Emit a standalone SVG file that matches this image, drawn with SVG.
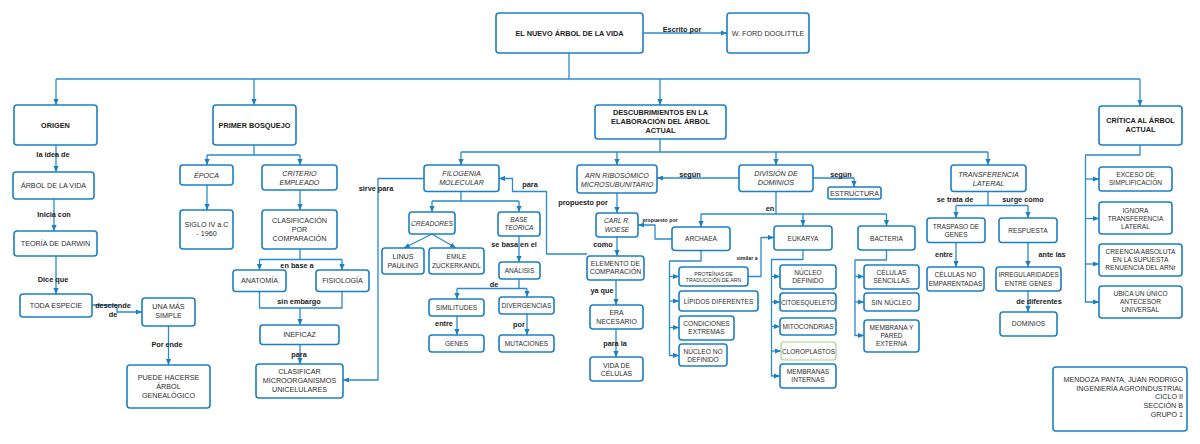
<svg xmlns="http://www.w3.org/2000/svg" width="1200" height="444" viewBox="0 0 1200 444">
<style>
rect.n{fill:#fff;stroke:#1b7fc3;stroke-width:1.6}
rect.g{fill:#fff;stroke:#9fd67c;stroke-width:1.2}
text{font-family:"Liberation Sans",Arial,sans-serif;fill:#2e2e2e;text-anchor:middle;dominant-baseline:central}
.b{font-weight:bold;font-size:7.3px;fill:#222}
.t{font-size:7.2px}
.m{font-size:6.6px}
.i{font-size:7.2px;font-style:italic}
.xs{font-size:5.2px;font-weight:bold;fill:#222}
.xn{font-size:5.2px}
#connectors path{fill:none;stroke:#2a8ad0;stroke-width:1.3;stroke-linejoin:round}
#connectors path.a{marker-end:url(#ah)}
</style>
<defs>
<marker id="ah" markerUnits="userSpaceOnUse" markerWidth="6" markerHeight="6" refX="6" refY="3" orient="auto">
<path d="M0,0.4 L6,3 L0,5.6 z" fill="#1b7fc3"/>
</marker>
</defs>
<rect width="1200" height="444" fill="#fff"/>

<g id="connectors">
<path class="a" d="M643,33 H727"/>
<path d="M569,53 V79"/>
<path d="M56,79 H1140"/>
<path class="a" d="M56,79 V105"/>
<path class="a" d="M254,79 V105"/>
<path class="a" d="M660,79 V105"/>
<path class="a" d="M1140,79 V106"/>
<!-- origen -->
<path class="a" d="M56,145 V172"/>
<path class="a" d="M54,199 V231"/>
<path class="a" d="M56,256 V294"/>
<path class="a" d="M92,305 H117 V312 H142"/>
<path class="a" d="M168.5,326 V365"/>
<!-- primer bosquejo -->
<path d="M254,145 V155 M207,155 H300"/>
<path class="a" d="M207,155 V165"/>
<path class="a" d="M300,155 V165"/>
<path class="a" d="M207,185 V210"/>
<path class="a" d="M300,190 V210"/>
<path d="M300,249 V259.5 M259.5,259.5 H342"/>
<path class="a" d="M259.5,259.5 V270"/>
<path class="a" d="M342,259.5 V270"/>
<path d="M259.5,291.5 V308 H342 V291.5"/>
<path class="a" d="M300,308 V325"/>
<path class="a" d="M300,344.5 V364"/>
<!-- descubrimientos -->
<path d="M660,139 V152 M461,152 H988"/>
<path class="a" d="M461,152 V165"/>
<path class="a" d="M617,152 V165"/>
<path class="a" d="M776,152 V165"/>
<path class="a" d="M988,152 V165"/>
<path class="a" d="M739,178 H657"/>
<path class="a" d="M813,178 H854 V187"/>
<!-- filogenia -->
<path d="M461,191.5 V201 M432,201 H519"/>
<path class="a" d="M432,201 V212"/>
<path class="a" d="M519,201 V212"/>
<path class="a" d="M432,234 L404,248"/>
<path class="a" d="M432,234 L456,248"/>
<path class="a" d="M519,236 V262"/>
<path d="M519,279 V288.5 M457,288.5 H527"/>
<path class="a" d="M457,288.5 V299"/>
<path class="a" d="M527,288.5 V297"/>
<path class="a" d="M457,316 V335"/>
<path class="a" d="M527,314 V335"/>
<path class="a" d="M424,178.5 H378 V380 H343"/>
<path class="a" d="M587,254 H546.5 V191.5 H512.5 V178.5 H499"/>
<!-- arn -->
<path class="a" d="M617,193 V213"/>
<path class="a" d="M617,237 V256"/>
<path class="a" d="M616,280 V305"/>
<path class="a" d="M616,329 V357"/>
<!-- division -->
<path d="M776,191.5 V214 M701,214 H886.5"/>
<path class="a" d="M701,214 V227"/>
<path class="a" d="M803,214 V226"/>
<path class="a" d="M886.5,214 V226"/>
<path class="a" d="M672,239 H655 V225 H638"/>
<path class="a" d="M701,250.5 V261 H669.5 V355.5 H679"/>
<path class="a" d="M669.5,276.5 H679"/>
<path class="a" d="M669.5,301 H679"/>
<path class="a" d="M669.5,327.5 H679"/>
<path class="a" d="M748,276.5 H761 V237.5 H774"/>
<path class="a" d="M803,250 V259.5 H771.5 V376 H780"/>
<path class="a" d="M771.5,276.5 H780"/>
<path class="a" d="M771.5,302 H780"/>
<path class="a" d="M771.5,326.5 H780"/>
<path class="a" d="M771.5,351 H781"/>
<path class="a" d="M886.5,250 V260 H855 V335.5 H864"/>
<path class="a" d="M855,276.5 H864"/>
<path class="a" d="M855,302 H864"/>
<!-- transferencia -->
<path d="M988,191.5 V205.5 M956,205.5 H1028"/>
<path class="a" d="M956,205.5 V218"/>
<path class="a" d="M1028,205.5 V218"/>
<path class="a" d="M956,242.5 V267"/>
<path class="a" d="M1028,242.5 V267"/>
<path class="a" d="M1028,291 V312"/>
<!-- critica -->
<path class="a" d="M1140,145 V155 H1085.5 V302 H1099"/>
<path class="a" d="M1085.5,179 H1099"/>
<path class="a" d="M1085.5,218.5 H1099"/>
<path class="a" d="M1085.5,264 H1099"/>
</g>

<g id="labels">
<text class="b" x="682" y="29">Escrito por</text>
<text class="b" x="53" y="154.5">la idea de</text>
<text class="b" x="54" y="214">Inicia con</text>
<text class="b" x="53" y="279.5">Dice que</text>
<text class="b" x="113" y="305.5">desciende</text>
<text class="b" x="113" y="314.5">de</text>
<text class="b" x="167" y="344.5">Por ende</text>
<text class="b" x="297" y="265">en base a</text>
<text class="b" x="299" y="301">sin embargo</text>
<text class="b" x="299" y="354">para</text>
<text class="b" x="376" y="188.5">sirve para</text>
<text class="b" x="530" y="184.5">para</text>
<text class="b" x="514" y="244.5">se basa en el</text>
<text class="b" x="494" y="284.5">de</text>
<text class="b" x="444" y="323">entre</text>
<text class="b" x="519" y="324.5">por</text>
<text class="b" x="690" y="174">según</text>
<text class="b" x="841" y="174">según</text>
<text class="b" x="583" y="202.5">propuesto por</text>
<text class="b" x="603" y="244">como</text>
<text class="b" x="602" y="290">ya que</text>
<text class="b" x="615" y="343.5">para la</text>
<text class="b" x="770" y="208.5">en</text>
<text class="xs" x="660" y="219.5">propuesto por</text>
<text class="xs" x="747" y="258">similar a</text>
<text class="b" x="955" y="199.5">se trata de</text>
<text class="b" x="1023" y="199.5">surge como</text>
<text class="b" x="944" y="254.5">entre</text>
<text class="b" x="1052" y="254.5">ante las</text>
<text class="b" x="1039" y="301.5">de diferentes</text>
</g>

<g id="root"><rect class="n" x="496" y="13" width="147" height="40" rx="3"/><text class="b" x="569.5" y="33">EL NUEVO ÁRBOL DE LA VIDA</text></g>
<g id="ford"><rect class="n" x="727" y="13" width="82" height="40" rx="3"/><text class="t" x="768" y="33">W. FORD DOOLITTLE</text></g>
<g id="origen"><rect class="n" x="14" y="105" width="83" height="40" rx="3"/><text class="b" x="55.5" y="125">ORIGEN</text></g>
<g id="primer"><rect class="n" x="213" y="105" width="83" height="40" rx="3"/><text class="b" x="254.5" y="125">PRIMER BOSQUEJO</text></g>
<g id="descub"><rect class="n" x="595" y="105" width="131" height="34" rx="3"/><text class="b" x="660.5" y="112.5">DESCUBRIMIENTOS EN LA</text><text class="b" x="660.5" y="121.5">ELABORACIÓN DEL ÁRBOL</text><text class="b" x="660.5" y="130.5">ACTUAL</text></g>
<g id="critica"><rect class="n" x="1099" y="106" width="83" height="39" rx="3"/><text class="b" x="1140.5" y="120">CRÍTICA AL ÁRBOL</text><text class="b" x="1140.5" y="129">ACTUAL</text></g>

<g id="arbol"><rect class="n" x="13" y="172" width="81" height="27" rx="3"/><text class="t" x="53.5" y="185.5">ÁRBOL DE LA VIDA</text></g>
<g id="darwin"><rect class="n" x="14" y="231" width="83" height="25" rx="3"/><text class="t" x="55.5" y="243.5">TEORÍA DE DARWIN</text></g>
<g id="toda"><rect class="n" x="20" y="294" width="72" height="23" rx="3"/><text class="t" x="56" y="305">TODA ESPECIE</text></g>
<g id="una"><rect class="n" x="142" y="298" width="53" height="28" rx="3"/><text class="t" x="168.5" y="306">UNA MÁS</text><text class="t" x="168.5" y="315">SIMPLE</text></g>
<g id="puede"><rect class="n" x="127" y="365" width="83" height="43" rx="3"/><text class="t" x="168.5" y="377">PUEDE HACERSE</text><text class="t" x="168.5" y="386">ÁRBOL</text><text class="t" x="168.5" y="395">GENEALÓGICO</text></g>

<g id="epoca"><rect class="n" x="180" y="165" width="53" height="20" rx="3"/><text class="i" x="206.5" y="175">ÉPOCA</text></g>
<g id="criterio"><rect class="n" x="262" y="165" width="75" height="25" rx="3"/><text class="i" x="299.5" y="173">CRITERIO</text><text class="i" x="299.5" y="182">EMPLEADO</text></g>
<g id="siglo"><rect class="n" x="180" y="210" width="53" height="39" rx="3"/><text class="t" x="206.5" y="224.5">SIGLO IV a.C</text><text class="t" x="206.5" y="233">- 1960</text></g>
<g id="clasificacion"><rect class="n" x="262" y="210" width="75" height="39" rx="3"/><text class="t" x="299.5" y="220.5">CLASIFICACIÓN</text><text class="t" x="299.5" y="229.5">POR</text><text class="t" x="299.5" y="238.5">COMPARACIÓN</text></g>
<g id="anatomia"><rect class="n" x="233" y="270" width="53" height="21.5" rx="3"/><text class="t" x="259.5" y="280.5">ANATOMÍA</text></g>
<g id="fisiologia"><rect class="n" x="316" y="270" width="53" height="21.5" rx="3"/><text class="t" x="342.5" y="280.5">FISIOLOGÍA</text></g>
<g id="ineficaz"><rect class="n" x="260" y="325" width="79" height="19.5" rx="3"/><text class="t" x="299.5" y="334.5">INEFICAZ</text></g>
<g id="clasificar"><rect class="n" x="256" y="364" width="87" height="34" rx="3"/><text class="t" x="299.5" y="371">CLASIFICAR</text><text class="t" x="299.5" y="380">MICROORGANISMOS</text><text class="t" x="299.5" y="389">UNICELULARES</text></g>

<g id="filogenia"><rect class="n" x="424" y="165" width="75" height="26.5" rx="3"/><text class="i" x="461.5" y="173.5">FILOGENIA</text><text class="i" x="461.5" y="182.5">MOLECULAR</text></g>
<g id="arn"><rect class="n" x="577" y="165" width="80" height="28" rx="3"/><text class="i" x="617" y="175">ARN RIBOSÓMICO</text><text class="i" x="617" y="184">MICROSUBUNITARIO</text></g>
<g id="division"><rect class="n" x="739" y="165" width="74" height="26.5" rx="3"/><text class="i" x="776" y="173.5">DIVISIÓN DE</text><text class="i" x="776" y="182.5">DOMINIOS</text></g>
<g id="estructura"><rect class="n" x="828" y="187" width="53" height="12" rx="2"/><text class="t" x="854.5" y="193.5">ESTRUCTURA</text></g>
<g id="transferencia"><rect class="n" x="951" y="165" width="75" height="26.5" rx="3"/><text class="i" x="988.5" y="174">TRANSFERENCIA</text><text class="i" x="988.5" y="183">LATERAL</text></g>

<g id="creadores"><rect class="n" x="409" y="212" width="46" height="22" rx="3"/><text class="i" style="font-size:6.6px" x="432" y="223">CREADORES</text></g>
<g id="base"><rect class="n" x="498" y="212" width="42" height="24" rx="3"/><text class="i" style="font-size:6.5px" x="519" y="219">BASE</text><text class="i" style="font-size:6.5px" x="519" y="227.5">TEÓRICA</text></g>
<g id="linus"><rect class="n" x="382" y="248" width="42" height="26" rx="3"/><text class="t" x="403" y="256.5">LINUS</text><text class="t" x="403" y="265.5">PAULING</text></g>
<g id="emile"><rect class="n" x="429" y="248" width="55" height="26" rx="3"/><text class="m" x="456.5" y="256.5">EMILE</text><text class="m" x="456.5" y="265.5">ZUCKERKANDL</text></g>
<g id="analisis"><rect class="n" x="499" y="262" width="41" height="17" rx="3"/><text class="m" x="519.5" y="270.5">ANÁLISIS</text></g>
<g id="similitudes"><rect class="n" x="429" y="299" width="55" height="17" rx="3"/><text class="m" x="456.5" y="307">SIMILITUDES</text></g>
<g id="divergencias"><rect class="n" x="499" y="297" width="55" height="17" rx="3"/><text class="m" x="526.5" y="305.5">DIVERGENCIAS</text></g>
<g id="genes"><rect class="n" x="429" y="335" width="55" height="17" rx="3"/><text class="m" x="456.5" y="343.5">GENES</text></g>
<g id="mutaciones"><rect class="n" x="499" y="335" width="55" height="17" rx="3"/><text class="m" x="526.5" y="343.5">MUTACIONES</text></g>

<g id="carl"><rect class="n" x="596" y="213" width="42" height="24" rx="3"/><text class="i" style="font-size:6.6px" x="617" y="220.5">CARL R.</text><text class="i" style="font-size:6.6px" x="617" y="229">WOESE</text></g>
<g id="elemento"><rect class="n" x="587" y="256" width="57" height="24" rx="3"/><text class="m" style="font-size:6.9px" x="615.5" y="263">ELEMENTO DE</text><text class="m" style="font-size:6.9px" x="615.5" y="271.5">COMPARACIÓN</text></g>
<g id="era"><rect class="n" x="590" y="305" width="53" height="24" rx="3"/><text class="m" style="font-size:6.9px" x="616.5" y="312.5">ERA</text><text class="m" style="font-size:6.9px" x="616.5" y="321">NECESARIO</text></g>
<g id="vida"><rect class="n" x="590" y="357" width="53" height="24" rx="3"/><text class="m" style="font-size:6.9px" x="616.5" y="365">VIDA DE</text><text class="m" style="font-size:6.9px" x="616.5" y="373.5">CÉLULAS</text></g>

<g id="archaea"><rect class="n" x="672" y="227" width="58" height="23.5" rx="3"/><text class="m" x="701" y="238.5">ARCHAEA</text></g>
<g id="eukarya"><rect class="n" x="774" y="226" width="58" height="24" rx="3"/><text class="m" x="803" y="238">EUKARYA</text></g>
<g id="bacteria"><rect class="n" x="858" y="226" width="57" height="24" rx="3"/><text class="m" x="886.5" y="238">BACTERIA</text></g>
<g id="proteinas"><rect class="n" x="679" y="267" width="69" height="19" rx="3"/><text class="xn" x="713.5" y="274">PROTEÍNAS DE</text><text class="xn" x="713.5" y="280">TRADUCCIÓN DE ARN</text></g>
<g id="lipidos"><rect class="n" x="679" y="291" width="79" height="20" rx="3"/><text class="m" x="718.5" y="301">LÍPIDOS DIFERENTES</text></g>
<g id="condiciones"><rect class="n" x="679" y="316" width="55" height="24" rx="3"/><text class="m" x="706.5" y="323">CONDICIONES</text><text class="m" x="706.5" y="331">EXTREMAS</text></g>
<g id="nucleono"><rect class="n" x="679" y="344" width="48" height="22" rx="3"/><text class="m" x="703" y="351.5">NÚCLEO NO</text><text class="m" x="703" y="359.5">DEFINIDO</text></g>
<g id="nucleodef"><rect class="n" x="780" y="265" width="56" height="24" rx="3"/><text class="m" x="808" y="272.5">NÚCLEO</text><text class="m" x="808" y="280.5">DEFINIDO</text></g>
<g id="cito"><rect class="n" x="780" y="293" width="56" height="18" rx="3"/><text class="m" style="font-size:6.4px" x="808" y="302">CITOESQUELETO</text></g>
<g id="mito"><rect class="n" x="780" y="318" width="56" height="17" rx="3"/><text class="m" x="808" y="326.5">MITOCONDRIAS</text></g>
<g id="cloro"><rect class="g" x="781" y="342" width="55" height="18" rx="3"/><text class="m" style="font-size:6.5px" x="808.5" y="351">CLOROPLASTOS</text></g>
<g id="membranas"><rect class="n" x="780" y="364" width="56" height="24" rx="3"/><text class="m" x="808" y="371.5">MEMBRANAS</text><text class="m" x="808" y="379.5">INTERNAS</text></g>
<g id="celulas"><rect class="n" x="864" y="265" width="55" height="24" rx="3"/><text class="m" x="891.5" y="272.5">CÉLULAS</text><text class="m" x="891.5" y="280.5">SENCILLAS</text></g>
<g id="sinnucleo"><rect class="n" x="864" y="293" width="55" height="18" rx="3"/><text class="m" x="891.5" y="302">SIN NÚCLEO</text></g>
<g id="membrana"><rect class="n" x="864" y="320" width="55" height="32" rx="3"/><text class="m" x="891.5" y="327.5">MEMBRANA Y</text><text class="m" x="891.5" y="335.5">PARED</text><text class="m" x="891.5" y="343.5">EXTERNA</text></g>

<g id="traspaso"><rect class="n" x="927" y="218" width="58" height="24.5" rx="3"/><text class="m" x="956" y="226">TRASPASO DE</text><text class="m" x="956" y="234.5">GENES</text></g>
<g id="respuesta"><rect class="n" x="999" y="218" width="58" height="24.5" rx="3"/><text class="m" x="1028" y="230.5">RESPUESTA</text></g>
<g id="celulasno"><rect class="n" x="927" y="267" width="57" height="24" rx="3"/><text class="m" x="955.5" y="274.5">CÉLULAS NO</text><text class="m" x="955.5" y="283">EMPARENTADAS</text></g>
<g id="irregularidades"><rect class="n" x="996" y="267" width="65" height="24" rx="3"/><text class="m" style="font-size:6.3px" x="1028.5" y="274.5">IRREGULARIDADES</text><text class="m" x="1028.5" y="283">ENTRE GENES</text></g>
<g id="dominios"><rect class="n" x="1000" y="312" width="57" height="24" rx="3"/><text class="m" x="1028.5" y="323.5">DOMINIOS</text></g>

<g id="exceso"><rect class="n" x="1099" y="167" width="73" height="24" rx="3"/><text class="m" x="1135.5" y="174">EXCESO DE</text><text class="m" x="1135.5" y="182.5">SIMPLIFICACIÓN</text></g>
<g id="ignora"><rect class="n" x="1099" y="202" width="73" height="32" rx="3"/><text class="m" x="1135.5" y="210">IGNORA</text><text class="m" x="1135.5" y="218">TRANSFERENCIA</text><text class="m" x="1135.5" y="226">LATERAL</text></g>
<g id="creencia"><rect class="n" x="1099" y="244" width="83" height="32" rx="3"/><text class="m" x="1140.5" y="251">CREENCIA ABSOLUTA</text><text class="m" x="1140.5" y="259">EN LA SUPUESTA</text><text class="m" x="1140.5" y="267">RENUENCIA DEL ARNr</text></g>
<g id="ubica"><rect class="n" x="1099" y="286" width="83" height="32" rx="3"/><text class="m" x="1140.5" y="293.5">UBICA UN ÚNICO</text><text class="m" x="1140.5" y="301.5">ANTECESOR</text><text class="m" x="1140.5" y="309.5">UNIVERSAL</text></g>

<g id="autor"><rect class="n" x="1053" y="367" width="134" height="64" rx="3"/>
<text class="t" style="text-anchor:end" x="1183" y="379">MENDOZA PANTA, JUAN RODRIGO</text>
<text class="t" style="text-anchor:end" x="1183" y="388">INGENIERÍA AGROINDUSTRIAL</text>
<text class="t" style="text-anchor:end" x="1183" y="396.5">CICLO II</text>
<text class="t" style="text-anchor:end" x="1183" y="405.5">SECCIÓN B</text>
<text class="t" style="text-anchor:end" x="1183" y="414">GRUPO 1</text>
</g>
</svg>
